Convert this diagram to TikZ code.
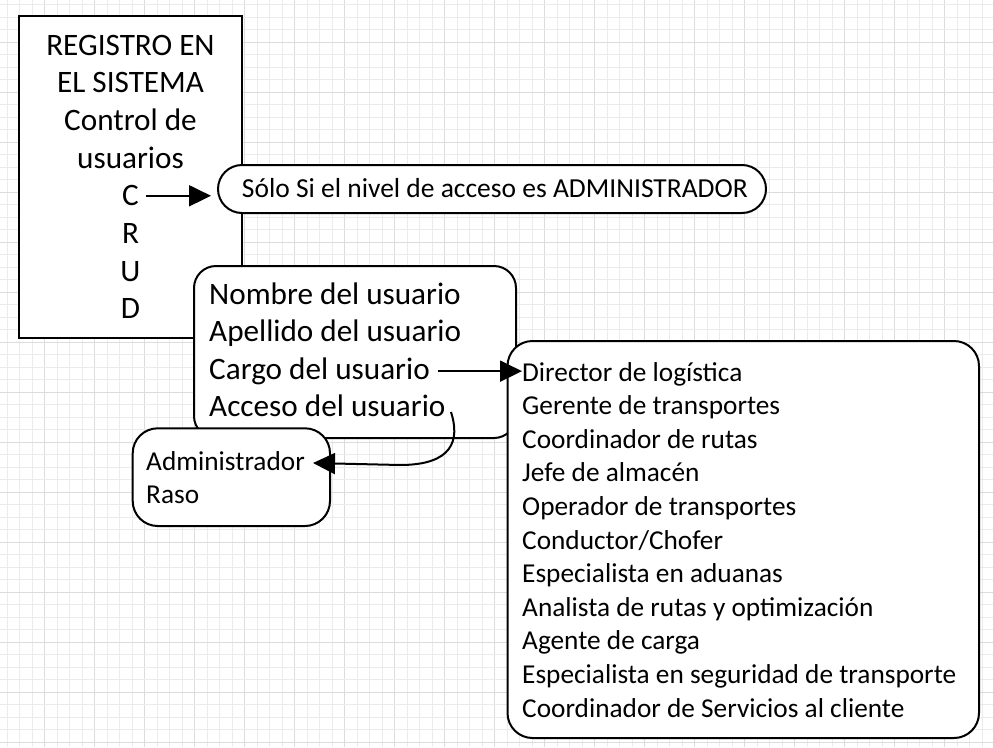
\documentclass[tikz,border=0pt]{standalone}
\usepackage{fontspec}
\setmainfont{Carlito}
\usetikzlibrary{arrows.meta,calc}
\definecolor{gminor}{HTML}{EBEBEB}
\definecolor{gmajor}{HTML}{DCDCDC}
\tikzset{
  gridminor/.style={draw=gminor,line width=1pt},
  gridmajor/.style={draw=gmajor,line width=1pt},
  sqbox/.style={draw=black,line width=2pt,fill=white,rectangle,inner sep=0pt},
  rbox/.style={draw=black,line width=2pt,fill=white,rectangle,rounded corners=#1,inner sep=0pt},
  rbox/.default=24pt,
  bigtxt/.style={inner sep=0pt,font=\fontsize{31.2}{37.7}\selectfont},
  midtxt/.style={inner sep=0pt,font=\fontsize{27.3}{33.6}\selectfont},
  pilltxt/.style={inner sep=0pt,font=\fontsize{27.5}{32}\selectfont},
  arr/.style={draw=black,line width=2pt,-{Triangle[length=22pt,width=21pt]}},
}
\begin{document}
\begin{tikzpicture}[x=1pt,y=-1pt]
\useasboundingbox (0,0) rectangle (993,747);
\fill[white] (0,0) rectangle (993,747);
% grid
\foreach \k in {0,...,79}{
  \pgfmathsetmacro\gx{7.3+12.5*\k}
  \pgfmathtruncatemacro\m{mod(\k,4)}
  \ifnum\m=3 \draw[gridmajor] (\gx,0) -- (\gx,747);
  \else \draw[gridminor] (\gx,0) -- (\gx,747); \fi
}
\foreach \k in {0,...,59}{
  \pgfmathsetmacro\gy{4.8+12.5*\k}
  \pgfmathtruncatemacro\m{mod(\k,4)}
  \ifnum\m=3 \draw[gridmajor] (0,\gy) -- (993,\gy);
  \else \draw[gridminor] (0,\gy) -- (993,\gy); \fi
}
% main box
\node[sqbox,minimum width=223pt,minimum height=322pt] (reg) at (130.5,177) {};
\node[bigtxt,anchor=base] (t1) at (130.5,55) {REGISTRO EN};
\node[bigtxt,anchor=base] (t2) at (130.5,92.7) {EL SISTEMA};
\node[bigtxt,anchor=base] (t3) at (130.5,130.4) {Control de};
\node[bigtxt,anchor=base] (t4) at (130.5,168.1) {usuarios};
\node[bigtxt,anchor=base] (C) at (130.5,205.8) {C};
\node[bigtxt,anchor=base] (R) at (130.5,243.5) {R};
\node[bigtxt,anchor=base] (U) at (130.5,281.2) {U};
\node[bigtxt,anchor=base] (D) at (130.5,318.9) {D};
% pill
\node[rbox=24pt,minimum width=548pt,minimum height=48pt] (solo) at (492,189) {};
\node[pilltxt,anchor=base west] (solotxt) at (241.7,197.7) {Sólo Si el nivel de acceso es ADMINISTRADOR};
% user data box
\node[rbox=22pt,minimum width=322pt,minimum height=172pt] (datos) at (355,352) {};
\node[bigtxt,anchor=base west] (n1) at (209,304.3) {Nombre del usuario};
\node[bigtxt,anchor=base west] (n2) at (209,341.8) {Apellido del usuario};
\node[bigtxt,anchor=base west] (n3) at (209,379.3) {Cargo del usuario};
\node[bigtxt,anchor=base west] (n4) at (209,416.8) {Acceso del usuario};
% cargos box
\node[rbox=25pt,minimum width=471.5pt,minimum height=397pt] (cargos) at (743.25,539.5) {};
\foreach \t [count=\i from 0] in {Director de logística,Gerente de transportes,Coordinador de rutas,Jefe de almacén,Operador de transportes,Conductor/Chofer,Especialista en aduanas,Analista de rutas y optimización,Agente de carga,Especialista en seguridad de transporte,Coordinador de Servicios al cliente}{
  \pgfmathsetmacro\by{381+33.6*\i}
  \pgfmathtruncatemacro\j{\i+1}
  \node[midtxt,anchor=base west] (d\j) at (522,\by) {\t};
}
% access box
\node[rbox=25pt,minimum width=197.3pt,minimum height=97.7pt] (acceso) at (231.35,477.15) {};
\node[midtxt,anchor=base west] (a1) at (146,470.7) {Administrador};
\node[midtxt,anchor=base west] (a2) at (146,503.3) {Raso};
% connectors
\draw[arr] ([xshift=7pt]C.east) -- ([xshift=-6pt]C.east -| solo.west);
\draw[arr] ([xshift=8pt]n3.east) -- (n3.east -| d1.west);
\coordinate (accStart) at (451,412);
\coordinate (accTip) at (313,463);
\draw[arr] (accStart) .. controls (460,440) and (453,465) .. (400,465) -- (accTip);
\end{tikzpicture}
\end{document}
